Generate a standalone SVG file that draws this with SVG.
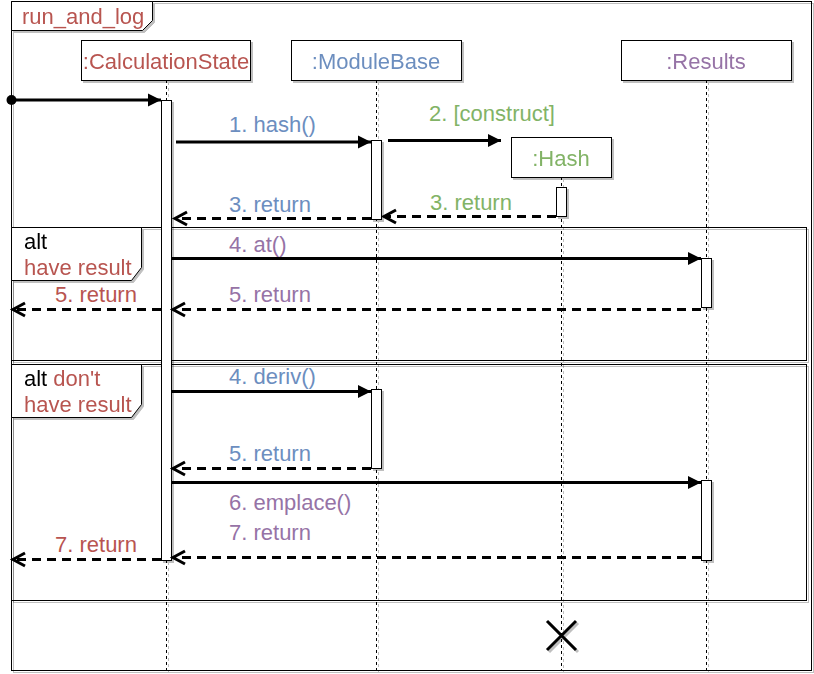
<svg xmlns="http://www.w3.org/2000/svg" width="814" height="674" viewBox="0 0 814 674">
  <defs>
    <filter id="shadow" filterUnits="userSpaceOnUse" x="0" y="0" width="814" height="674">
      <feOffset in="SourceAlpha" dx="2" dy="2" result="off"/>
      <feFlood flood-color="#000" flood-opacity="0.25"/>
      <feComposite in2="off" operator="in" result="sh"/>
      <feMerge><feMergeNode in="sh"/><feMergeNode in="SourceGraphic"/></feMerge>
    </filter>
    <marker id="block" markerUnits="userSpaceOnUse" markerWidth="14" markerHeight="14" refX="13" refY="6.5" orient="auto" overflow="visible">
      <path d="M0,0 L13,6.5 L0,13 Z" fill="#000"/>
    </marker>
    <marker id="open" markerUnits="userSpaceOnUse" markerWidth="14" markerHeight="14" refX="1" refY="6.5" orient="auto-start-reverse" overflow="visible">
      <path d="M-11,0 L1,6.5 L-11,13" fill="none" stroke="#000" stroke-width="3"/>
    </marker>
    <style>
      text { font-family: "Liberation Sans", Arial, sans-serif; font-size: 22px; }
      .box { fill: #fff; stroke: #000; stroke-width: 1; }
      .frame { fill: none; stroke: #000; stroke-width: 1; }
      .life { stroke: #000; stroke-width: 1; stroke-dasharray: 3 3; fill: none; }
      .act { fill: #fff; stroke: #000; stroke-width: 1; }
      .call { stroke: #000; stroke-width: 3; fill: none; marker-end: url(#block); }
      .ret { stroke: #000; stroke-width: 3; fill: none; stroke-dasharray: 9 6; marker-end: url(#open); }
      .mid { text-anchor: middle; }
      .red { fill: #b85450; }
      .blue { fill: #6c8ebf; }
      .green { fill: #82b366; }
      .purple { fill: #9673a6; }
      .black { fill: #000; }
    </style>
  </defs>
  <rect width="814" height="674" fill="#fff"/>

  <!-- outer interaction frame -->
  <g id="frame-run_and_log" filter="url(#shadow)">
    <rect class="frame" x="11.5" y="1.5" width="800" height="669"/>
    <path class="box" d="M11.5,1.5 H152.5 V20.5 L142.5,30.5 H11.5 Z"/>
    <text class="red" x="22" y="24">run_and_log</text>
  </g>

  <!-- combined fragments -->
  <g id="alt-have-result" filter="url(#shadow)">
    <rect class="frame" x="11.5" y="227.5" width="795" height="133"/>
    <path class="box" d="M11.5,227.5 H141.5 V267.5 L131.5,280.5 H11.5 Z"/>
    <text class="black" x="24" y="249">alt</text>
    <text class="red" x="24" y="275">have result</text>
  </g>
  <g id="alt-dont-have-result" filter="url(#shadow)">
    <rect class="frame" x="11.5" y="364.5" width="795" height="236"/>
    <path class="box" d="M11.5,364.5 H141.5 V404.5 L131.5,417.5 H11.5 Z"/>
    <text class="black" x="24" y="386">alt<tspan class="red"> don't</tspan></text>
    <text class="red" x="24" y="412">have result</text>
  </g>

  <!-- lifelines -->
  <g id="calculation-state" filter="url(#shadow)">
    <line class="life" x1="166.5" y1="80" x2="166.5" y2="670"/>
    <rect class="box" x="81.5" y="40.5" width="169" height="40"/>
    <text class="red mid" x="166" y="69">:CalculationState</text>
    <rect class="act" x="161.5" y="100.5" width="10" height="460"/>
  </g>
  <g id="module-base" filter="url(#shadow)">
    <line class="life" x1="376.5" y1="80" x2="376.5" y2="670"/>
    <rect class="box" x="291.5" y="40.5" width="170" height="40"/>
    <text class="blue mid" x="376" y="69">:ModuleBase</text>
    <rect class="act" x="371.5" y="140.5" width="10" height="79"/>
    <rect class="act" x="371.5" y="389.5" width="10" height="79"/>
  </g>
  <g id="hash" filter="url(#shadow)">
    <line class="life" x1="561.5" y1="177" x2="561.5" y2="670"/>
    <rect class="box" x="511.5" y="137.5" width="100" height="40"/>
    <text class="green mid" x="561" y="166">:Hash</text>
    <rect class="act" x="556.5" y="187.5" width="10" height="29"/>
    <path d="M547,621 L576,650 M576,621 L547,650" stroke="#000" stroke-width="3" fill="none"/>
  </g>
  <g id="results" filter="url(#shadow)">
    <line class="life" x1="706.5" y1="80" x2="706.5" y2="670"/>
    <rect class="box" x="621.5" y="40.5" width="170" height="40"/>
    <text class="purple mid" x="706" y="69">:Results</text>
    <rect class="act" x="701.5" y="258.5" width="10" height="49"/>
    <rect class="act" x="701.5" y="480.5" width="10" height="80"/>
  </g>

  <!-- messages -->
  <g id="connectors">
    <circle cx="11.5" cy="100" r="5" fill="#000"/>
    <line class="call" x1="11.5" y1="100" x2="161" y2="100"/>

    <line class="call" x1="176" y1="142" x2="371" y2="142"/>
    <text class="blue" x="229" y="132">1. hash()</text>

    <line class="call" x1="388" y1="140.5" x2="501" y2="140.5"/>
    <text class="green" x="429" y="121">2. [construct]</text>

    <line class="ret" x1="556" y1="216.5" x2="384" y2="216.5"/>
    <text class="green" x="430" y="210">3. return</text>

    <line class="ret" x1="371" y1="218.5" x2="175" y2="218.5"/>
    <text class="blue" x="229" y="212">3. return</text>

    <line class="call" x1="171.5" y1="258.5" x2="701" y2="258.5"/>
    <text class="purple" x="229" y="252">4. at()</text>

    <line class="ret" x1="701" y1="309.5" x2="173" y2="309.5"/>
    <text class="purple" x="229" y="302">5. return</text>

    <line class="ret" x1="161" y1="309.5" x2="13" y2="309.5"/>
    <text class="red" x="55" y="302">5. return</text>

    <line class="call" x1="171.5" y1="391.5" x2="371" y2="391.5"/>
    <text class="blue" x="229" y="384">4. deriv()</text>

    <line class="ret" x1="371" y1="468.5" x2="173" y2="468.5"/>
    <text class="blue" x="229" y="461">5. return</text>

    <line class="call" x1="171.5" y1="482.5" x2="701" y2="482.5"/>
    <text class="purple" x="229" y="510">6. emplace()</text>

    <line class="ret" x1="701" y1="557.5" x2="173" y2="557.5"/>
    <text class="purple" x="229" y="540">7. return</text>

    <line class="ret" x1="161" y1="559.5" x2="13" y2="559.5"/>
    <text class="red" x="55" y="552">7. return</text>
  </g>
</svg>
